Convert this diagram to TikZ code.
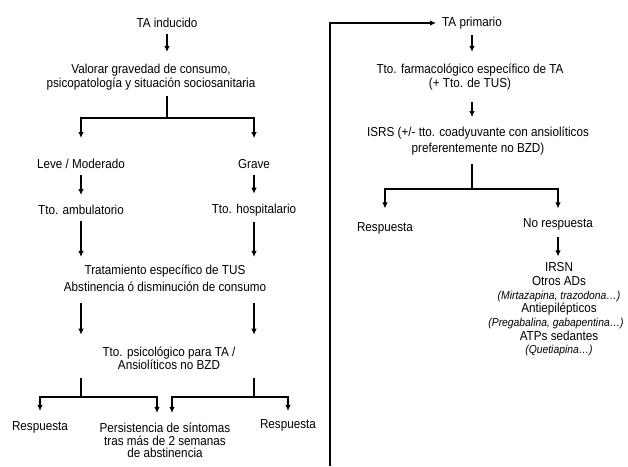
\documentclass[tikz,border=0pt]{standalone}
\usepackage{fontspec}
\setmainfont{Liberation Sans}[FakeStretch=0.9]
\usetikzlibrary{positioning,arrows.meta}

\tikzset{
  txt/.style={align=center, inner sep=6pt, font=\fontsize{13}{14.5}\selectfont},
  link/.style={line width=1.4pt},
  flow/.style={link, -{Latex[length=6pt,width=5.5pt]}, shorten >=4pt},
}
\newcommand{\drugs}[1]{{\itshape\fontsize{11.5}{13}\selectfont #1}}

\begin{document}
\begin{tikzpicture}[x=1pt, y=-1pt, on grid]

  \useasboundingbox (0,0) rectangle (628,466);

  % Induced branch
  \node[txt] (tain) at (167,23) {TA inducido};
  \node[txt, below=54pt of tain, xshift=-16pt] (valorar)
    {Valorar gravedad de consumo,\\[-1pt]psicopatología y situación sociosanitaria};

  % Severity
  \node[txt, below=141pt of tain, xshift=-86pt] (leve) {Leve / Moderado};
  \node[txt, right=173pt of leve] (grave) {Grave};
  \node[txt, below=46pt of leve] (ambu) {Tto. ambulatorio};
  \node[txt, below=46pt of grave] (hosp) {Tto. hospitalario};

  % Common treatment
  \node[txt, below=255.5pt of tain, xshift=-2pt] (trat)
    {Tratamiento específico de TUS\\[2.5pt]Abstinencia ó disminución de consumo};
  \node[txt, below=80pt of trat, xshift=4pt] (psico)
    {Tto. psicológico para TA /\\[-1pt]Ansiolíticos no BZD};

  % Outcomes
  \node[txt, below=68.5pt of psico, xshift=-129pt] (resp1) {Respuesta};
  \node[txt, below=82pt of psico, xshift=-4pt] (persist)
    {Persistencia de síntomas\\[-2pt]tras más de 2 semanas\\[-2pt]de abstinencia};
  \node[txt, below=66.5pt of psico, xshift=119pt] (resp2) {Respuesta};

  % Primary branch
  \node[txt] (taprim) at (472,23) {TA primario};
  \node[txt, below=54pt of taprim, xshift=-2pt] (farma)
    {Tto. farmacológico específico de TA\\[-1pt](+ Tto. de TUS)};
  \node[txt, below=64.5pt of farma, xshift=8pt] (isrs)
    {ISRS (+/- tto. coadyuvante con ansiolíticos\\[1.5pt]preferentemente no BZD)};
  \node[txt, below=87pt of isrs, xshift=-93pt] (resp3) {Respuesta};
  \node[txt, below=83pt of isrs, xshift=80pt] (nores) {No respuesta};
  \node[txt, below=85pt of nores, xshift=1pt, font=\fontsize{13}{13.7}\selectfont] (alt)
    {IRSN\\Otros ADs\\\drugs{(Mirtazapina, trazodona…)}\\Antiepilépticos\\
     \drugs{(Pregabalina, gabapentina…)\kern6pt}\\ATPs sedantes\\\drugs{(Quetiapina…)}};

  % Branch points
  \coordinate (b1) at (167,118);
  \coordinate (bl) at (81,397);
  \coordinate (br) at (254,397);
  \coordinate (b2) at (472,189);
  \coordinate (bot) at (330,466);

  % Edges, induced
  \draw[flow, shorten >=6pt] (tain) -- (tain |- valorar.north);
  \draw[link] (valorar.south -| b1) -- (b1);
  \draw[flow, shorten >=15pt] (b1) -| (leve);
  \draw[flow, shorten >=15pt] (b1) -| (grave);
  \draw[flow] (leve) -- (ambu);
  \draw[flow] (grave) -- (hosp);
  \draw[flow, shorten >=2pt] (ambu) -- (ambu |- trat.north);
  \draw[flow, shorten >=2pt] (hosp) -- (hosp |- trat.north);
  \draw[flow, shorten <=5pt, shorten >=6pt] (trat.south -| ambu) -- (ambu |- psico.north);
  \draw[flow, shorten <=5pt, shorten >=6pt] (trat.south -| hosp) -- (hosp |- psico.north);
  \draw[link, shorten <=2pt] (psico.south -| bl) -- (bl);
  \draw[link, shorten <=2pt] (psico.south -| br) -- (br);
  \draw[flow] (bl) -| (resp1);
  \draw[flow] (bl) -| ([xshift=-8pt]persist.north);
  \draw[flow] (br) -| ([xshift=7pt]persist.north);
  \draw[flow, shorten >=2pt] (br) -| (resp2);

  % Edges, primary
  \draw[flow, shorten >=0pt] (bot) |- (taprim);
  \draw[flow, shorten >=6pt] (taprim) -- (taprim |- farma.north);
  \draw[flow, shorten <=5.5pt] (farma.south -| taprim) -- (taprim |- isrs.north);
  \draw[link, shorten <=2.5pt] (isrs.south -| b2) -- (b2);
  \draw[flow, shorten >=8pt] (b2) -| (resp3);
  \draw[flow] (b2) -| (nores);
  \draw[flow, shorten >=0pt] (nores) -- (nores |- alt.north);

\end{tikzpicture}
\end{document}
